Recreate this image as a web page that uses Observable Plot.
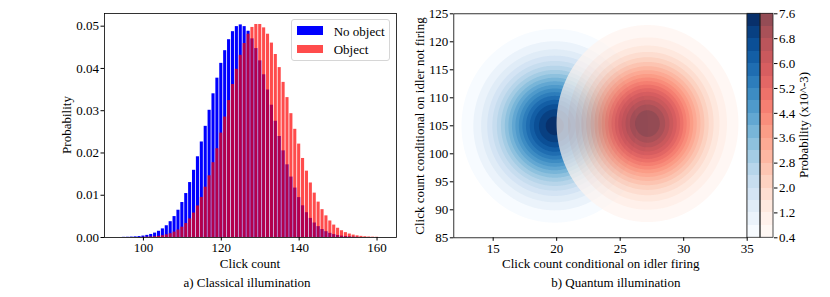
<!DOCTYPE html>
<html><head><meta charset="utf-8">
<script src="https://cdn.jsdelivr.net/npm/d3@7"></script>
<script src="https://cdn.jsdelivr.net/npm/@observablehq/plot@0.6"></script>
<style>
body{margin:0;background:#fff;}
#fig{position:relative;width:830px;height:297px;overflow:hidden;font-family:'Liberation Serif','Times New Roman',serif;font-size:13px;color:#000;background:#fff;}
#fig svg{position:absolute;top:0;overflow:visible;background:transparent !important;font-family:'Liberation Serif','Times New Roman',serif !important;font-size:13px !important;}
#fig svg text{font-family:'Liberation Serif','Times New Roman',serif !important;font-size:13px !important;}
.lbl{position:absolute;white-space:nowrap;line-height:15px;transform:translate(-50%,-50%);}
.rot{transform:translate(-50%,-50%) rotate(-90deg);}
#legend{position:absolute;left:290.7px;top:19.3px;width:97px;height:40px;border:1px solid #d6d6d6;border-radius:3px;background:rgba(255,255,255,0.8);}
.sw{position:absolute;left:5px;width:26.7px;height:8.4px;}
.lt{position:absolute;left:42px;line-height:15px;white-space:nowrap;}
</style></head>
<body><div id="fig"></div>
<script>
// ---------- Data: a) Classical illumination ----------
const clickCounts = [95,96,97,98,99,100,101,102,103,104,105,106,107,108,109,110,111,112,113,114,115,116,117,118,119,120,121,122,123,124,125,126,127,128,129,130,131,132,133,134,135,136,137,138,139,140,141,142,143,144,145,146,147,148,149,150,151,152,153,154,155,156,157,158,159,160];
const noObject = [0.00004,0.00006,0.00010,0.00015,0.00022,0.00034,0.00050,0.00072,0.00104,0.00147,0.00204,0.00278,0.00374,0.00495,0.00645,0.00828,0.0104,0.0130,0.0159,0.0191,0.0226,0.0263,0.0301,0.0340,0.0377,0.0412,0.0442,0.0468,0.0487,0.0499,0.0503,0.0499,0.0488,0.0470,0.0447,0.0418,0.0385,0.0349,0.0313,0.0275,0.0239,0.0205,0.0172,0.0143,0.0117,0.00944,0.00750,0.00587,0.00452,0.00343,0.00257,0.00189,0.00138,0.00098,0.00069,0.00048,0.00033,0.00022,0.00015,0.00010,0.00006,0,0,0,0,0];
const withObject = [0,0,0,0,0,0.00005,0.00008,0.00012,0.00019,0.00028,0.00042,0.00062,0.00089,0.00127,0.00177,0.00244,0.00330,0.00440,0.00578,0.00746,0.00948,0.0119,0.0146,0.0177,0.0210,0.0247,0.0285,0.0324,0.0362,0.0398,0.0431,0.0459,0.0481,0.0497,0.0504,0.0504,0.0496,0.0481,0.0460,0.0433,0.0402,0.0367,0.0331,0.0293,0.0256,0.0221,0.0187,0.0157,0.0129,0.0105,0.00837,0.00659,0.00512,0.00391,0.00294,0.00219,0.00160,0.00115,0.00082,0.00057,0.00039,0.00027,0.00018,0.00012,0.00008,0.00005];
const seriesNames = ["No object", "Object"];
const classicalXDomain = [90, 165];
const classicalYDomain = [0, 0.053];
const classicalXTicks = [100, 120, 140, 160];
const classicalYTicks = [0, 0.01, 0.02, 0.03, 0.04, 0.05];

// ---------- Data: b) Quantum illumination (contour fields, in units of 10^-3) ----------
const fieldNames = ["No object", "Object"];
const fieldPeaks = [7.4, 7.6];
const fieldCenterX = [19.85, 27.15];
const fieldCenterY = [105.0, 105.4];
const fieldSigmaX = [3.04, 2.95];
const fieldSigmaY = [7.16, 7.25];
const contourLevels = [0.4,0.8,1.2,1.6,2.0,2.4,2.8,3.2,3.6,4.0,4.4,4.8,5.2,5.6,6.0,6.4,6.8,7.2,7.6];
const quantumXDomain = [11.9, 35];
const quantumYDomain = [85, 125];
const quantumXTicks = [15, 20, 25, 30, 35];
const quantumYTicks = [85, 90, 95, 100, 105, 110, 115, 120, 125];
const colorbarTicks = [0.4, 1.2, 2.0, 2.8, 3.6, 4.4, 5.2, 6.0, 6.8, 7.6];

// ---------- Build ----------
const fig = document.getElementById("fig");
const font = "font-family:'Liberation Serif','Times New Roman',serif;font-size:13px;background:transparent;overflow:visible;";

const hist = clickCounts.map((c, i) => ({c, noObj: noObject[i], obj: withObject[i]}));

const left = Plot.plot({
  width: 420, height: 297,
  marginLeft: 104, marginRight: 24, marginTop: 13, marginBottom: 60,
  style: font,
  x: {domain: classicalXDomain, ticks: classicalXTicks, tickSize: 3.5, tickPadding: 2, label: null},
  y: {domain: classicalYDomain, ticks: classicalYTicks, tickFormat: ".2f", tickSize: 3.5, tickPadding: 2, label: null},
  marks: [
    Plot.rectY(hist.filter(d => d.noObj > 0), {x1: d => d.c - 0.5, x2: d => d.c + 0.5, y: "noObj", fill: "#0000ff", insetLeft: 0.4, insetRight: 0.4}),
    Plot.rectY(hist.filter(d => d.obj > 0), {x1: d => d.c - 0.5, x2: d => d.c + 0.5, y: "obj", fill: "#ff0000", fillOpacity: 0.7, insetLeft: 0.4, insetRight: 0.4}),
    Plot.frame({stroke: "black", strokeWidth: 0.8})
  ]
});
left.style.left = "0px";
fig.appendChild(left);

const nBands = contourLevels.length - 1;
const interps = [d3.interpolateBlues, d3.interpolateReds];
function bandColor(s, v) {
  let i = contourLevels.findIndex(l => Math.abs(l - v) < 1e-6);
  if (i < 0) i = 0;
  i = Math.min(i, nBands - 1);
  return interps[s](i / (nBands - 1));
}
function field(s) {
  return (x, y) => {
    const dx = (x - fieldCenterX[s]) / fieldSigmaX[s];
    const dy = (y - fieldCenterY[s]) / fieldSigmaY[s];
    return fieldPeaks[s] * Math.exp(-0.5 * (dx * dx + dy * dy));
  };
}
function contourMark(s) {
  return Plot.contour(null, {
    value: field(s),
    x1: quantumXDomain[0], x2: quantumXDomain[1], y1: quantumYDomain[0], y2: quantumYDomain[1],
    thresholds: contourLevels,
    fill: g => bandColor(s, g.value),
    stroke: "none",
    pixelSize: 1
  });
}

const right = Plot.plot({
  width: 350, height: 297,
  marginLeft: 53.3, marginRight: 3.3, marginTop: 13.3, marginBottom: 59.7,
  style: font,
  color: {type: "identity"},
  x: {domain: quantumXDomain, ticks: quantumXTicks, tickSize: 3.5, tickPadding: 2, label: null},
  y: {domain: quantumYDomain, ticks: quantumYTicks, tickSize: 3.5, tickPadding: 2, label: null},
  marks: [
    contourMark(0),
    contourMark(1),
    Plot.frame({stroke: "black", strokeWidth: 0.8})
  ]
});
const cgs = right.querySelectorAll('g[aria-label="contour"]');
if (cgs.length > 1) cgs[1].setAttribute("opacity", "0.7");
right.style.left = "400px";
fig.appendChild(right);

// colorbars
const bands = [];
fieldNames.forEach((name, s) => {
  for (let i = 0; i < nBands; i++) bands.push({strip: name, lo: contourLevels[i], hi: contourLevels[i + 1], color: interps[s](i / (nBands - 1))});
});
const cbar = Plot.plot({
  width: 83.3, height: 297,
  marginLeft: 0, marginRight: 57.3, marginTop: 13.3, marginBottom: 59.7,
  style: font,
  color: {type: "identity"},
  x: {type: "band", domain: fieldNames, padding: 0, axis: null},
  y: {domain: [contourLevels[0], contourLevels[contourLevels.length - 1]], ticks: colorbarTicks, tickFormat: ".1f", axis: "right", tickSize: 3.5, tickPadding: 2, label: null},
  marks: [
    Plot.barY(bands.filter(d => d.strip === fieldNames[0]), {x: "strip", y1: "lo", y2: "hi", fill: "color", shapeRendering: "crispEdges"}),
    Plot.barY(bands.filter(d => d.strip === fieldNames[1]), {x: "strip", y1: "lo", y2: "hi", fill: "color", fillOpacity: 0.7, shapeRendering: "crispEdges"}),
    Plot.barY(fieldNames, {x: d => d, y1: contourLevels[0], y2: contourLevels[contourLevels.length - 1], fill: "none", stroke: "#222", strokeWidth: 0.8})
  ]
});
cbar.style.left = "746.7px";
fig.appendChild(cbar);

// text labels
function label(text, x, y, rot) {
  const d = document.createElement("div");
  d.className = "lbl" + (rot ? " rot" : "");
  d.style.left = x + "px"; d.style.top = y + "px";
  d.textContent = text;
  fig.appendChild(d);
}
label("Probability", 65.5, 125, true);
label("Click count", 250, 263.3);
label("a) Classical illumination", 247, 282);
label("Click count conditional on idler not firing", 419.3, 126, true);
label("Click count conditional on idler firing", 600.8, 263.3);
label("b) Quantum illumination", 615.8, 282);
label("Probability (x10^-3)", 803.3, 125, true);

// legend
const lg = document.createElement("div");
lg.id = "legend";
lg.innerHTML = `<div class="sw" style="top:6px;background:#0000ff"></div><div class="lt" style="top:3.5px">${seriesNames[0]}</div>
<div class="sw" style="top:24.3px;background:rgba(255,0,0,0.7)"></div><div class="lt" style="top:21.5px">${seriesNames[1]}</div>`;
fig.appendChild(lg);
</script>
</body></html>
